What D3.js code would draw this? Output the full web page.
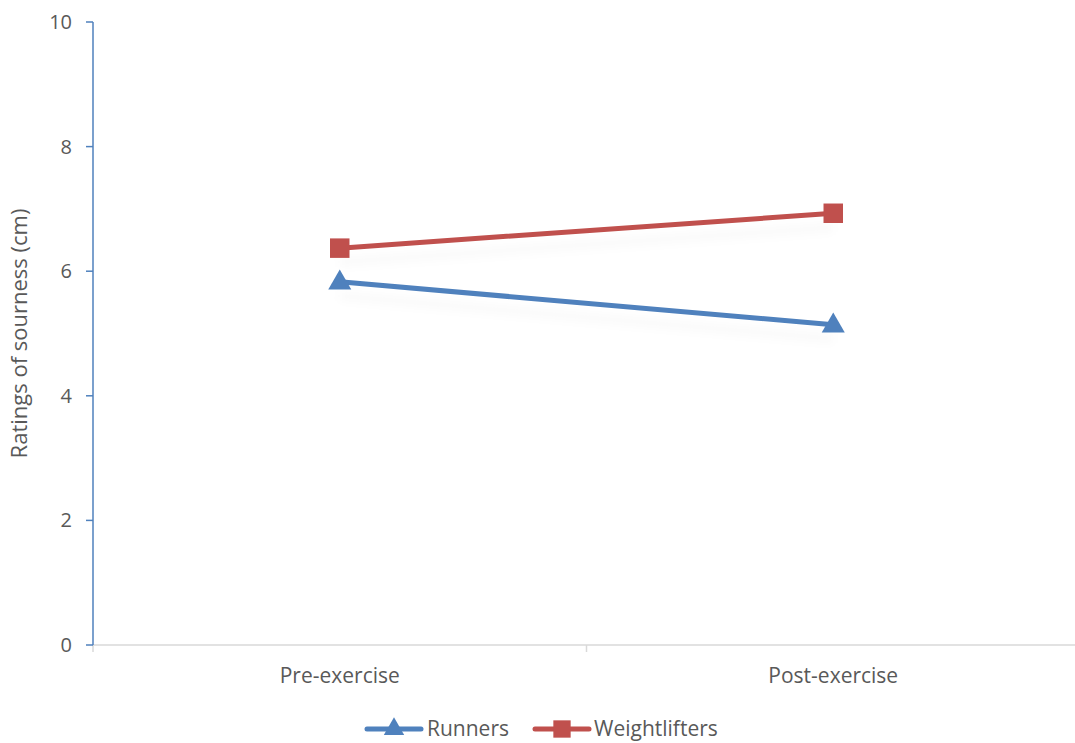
<!DOCTYPE html>
<html>
<head>
<meta charset="utf-8">
<script src="https://cdn.jsdelivr.net/npm/d3@7"></script>
<style>
  html, body { margin: 0; padding: 0; background: #fff; }
  svg { display: block; font-family: "Open Sans", "Noto Sans", sans-serif; }
</style>
</head>
<body>
<svg id="chart" width="1075" height="743"></svg>
<script>
// Mean sourness ratings before and after exercise
const phases = ["Pre-exercise", "Post-exercise"];
const runners = [5.83, 5.14];
const weightlifters = [6.37, 6.93];
const yTicks = [0, 2, 4, 6, 8, 10];
const seriesNames = ["Runners", "Weightlifters"];
const seriesColors = ["#4F81BD", "#C0504D"];
const seriesSymbols = [d3.symbolTriangle, d3.symbolSquare];

const svg = d3.select("#chart");
const plotLeft = 93, plotTop = 22, plotBottom = 645, plotRight = 1080;

const x = d3.scalePoint().domain(phases).range([plotLeft, plotRight]).padding(0.5);
const xBand = d3.scaleBand().domain(phases).range([plotLeft, plotRight]);
const y = d3.scaleLinear().domain([0, 10]).range([plotBottom, plotTop]);

const textColor = "#595959";

// Horizontal category axis
const xAxis = svg.append("g").attr("transform", `translate(0,${plotBottom})`);
xAxis.append("line")
  .attr("x1", plotLeft).attr("x2", 1075)
  .attr("stroke", "#d9d9d9").attr("stroke-width", 1.5);
const boundaries = phases.map(p => xBand(p)).concat([xBand(phases[1]) + xBand.bandwidth()]);
xAxis.selectAll("line.tick").data(boundaries).join("line")
  .attr("class", "tick")
  .attr("x1", d => d).attr("x2", d => d)
  .attr("y1", 0).attr("y2", 7)
  .attr("stroke", "#d9d9d9").attr("stroke-width", 1.5);
xAxis.selectAll("text").data(phases).join("text")
  .attr("x", d => x(d)).attr("y", 38)
  .attr("text-anchor", "middle")
  .attr("font-size", 21).attr("fill", textColor)
  .text(d => d);

// Vertical value axis
const yAxis = svg.append("g");
yAxis.append("line")
  .attr("x1", plotLeft).attr("x2", plotLeft)
  .attr("y1", y(10)).attr("y2", y(0))
  .attr("stroke", "#4F81BD").attr("stroke-width", 1.5);
yAxis.selectAll("line.tick").data(yTicks).join("line")
  .attr("class", "tick")
  .attr("x1", plotLeft - 7).attr("x2", plotLeft)
  .attr("y1", d => y(d)).attr("y2", d => y(d))
  .attr("stroke", "#4F81BD").attr("stroke-width", 1.5);
yAxis.selectAll("text").data(yTicks).join("text")
  .attr("x", 72).attr("y", d => y(d))
  .attr("dy", "0.35em")
  .attr("text-anchor", "end")
  .attr("font-size", 20).attr("fill", textColor)
  .text(d => d);

svg.append("text")
  .attr("transform", `translate(27,${(plotTop + plotBottom) / 2}) rotate(-90)`)
  .attr("text-anchor", "middle")
  .attr("font-size", 22).attr("fill", textColor)
  .text("Ratings of sourness (cm)");

// Soft shadow under the lines
const defs = svg.append("defs");
defs.append("filter").attr("id", "soft")
  .attr("x", "-10%").attr("y", "-50%").attr("width", "120%").attr("height", "200%")
  .append("feGaussianBlur").attr("stdDeviation", 4);

const data = [runners, weightlifters];
const line = d3.line().x((d, i) => x(phases[i])).y(d => y(d));

data.forEach((vals, k) => {
  svg.append("path")
    .attr("d", line(vals))
    .attr("transform", "translate(0,14)")
    .attr("fill", "none")
    .attr("stroke", "#000")
    .attr("stroke-opacity", 0.02)
    .attr("stroke-width", 10)
    .attr("filter", "url(#soft)");
});

data.forEach((vals, k) => {
  const g = svg.append("g");
  g.append("path")
    .attr("d", line(vals))
    .attr("fill", "none")
    .attr("stroke", seriesColors[k])
    .attr("stroke-width", 5)
    .attr("stroke-linecap", "round");
  g.selectAll("path.pt").data(vals).join("path")
    .attr("class", "pt")
    .attr("d", d3.symbol().type(seriesSymbols[k]).size(k === 0 ? 230 : 380))
    .attr("transform", (d, i) => `translate(${x(phases[i])},${y(d) + (k === 0 ? 1 : 0)})`)
    .attr("fill", seriesColors[k]);
});

// Legend
const legendY = 729;
const legendItems = [{ x0: 367, tx: 427 }, { x0: 535, tx: 594 }];
seriesNames.forEach((name, k) => {
  const it = legendItems[k];
  const g = svg.append("g");
  g.append("line")
    .attr("x1", it.x0).attr("x2", it.x0 + 54)
    .attr("y1", legendY).attr("y2", legendY)
    .attr("stroke", seriesColors[k]).attr("stroke-width", 5)
    .attr("stroke-linecap", "round");
  g.append("path")
    .attr("d", d3.symbol().type(seriesSymbols[k]).size(k === 0 ? 180 : 300))
    .attr("transform", `translate(${it.x0 + 27},${legendY})`)
    .attr("fill", seriesColors[k]);
  g.append("text")
    .attr("x", it.tx).attr("y", legendY).attr("dy", "0.35em")
    .attr("font-size", 21).attr("fill", textColor)
    .text(name);
});
</script>
</body>
</html>
